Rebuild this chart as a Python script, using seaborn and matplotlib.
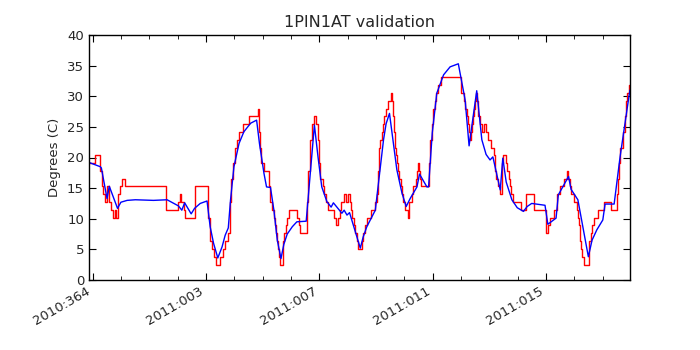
import numpy as np
import pandas as pd
import seaborn as sns
from matplotlib import pyplot as plt
from matplotlib.ticker import MultipleLocator

# days since 2010:364 00:00
tlm_days = [-0.13, 0.10, 0.27, 0.32, 0.38, 0.45, 0.52, 0.59, 0.66, 0.71, 0.78, 0.82, 0.91, 0.96,
            1.05, 1.14, 2.60, 3.01, 3.08, 3.13, 3.21, 3.27, 3.62, 4.07, 4.13, 4.21, 4.30, 4.35,
            4.48, 4.60, 4.66, 4.79, 4.84, 4.89, 4.95, 5.02, 5.11, 5.17, 5.31, 5.52, 5.83, 5.87,
            5.91, 5.96, 6.04, 6.22, 6.27, 6.34, 6.39, 6.43, 6.46, 6.52, 6.55, 6.59, 6.63, 6.71,
            6.76, 6.82, 6.87, 6.94, 7.20, 7.27, 7.33, 7.56, 7.61, 7.68, 7.73, 7.81, 7.89, 7.95,
            7.98, 8.03, 8.12, 8.18, 8.24, 8.32, 8.51, 8.60, 8.66, 8.72, 8.78, 8.86, 8.93, 9.00,
            9.07, 9.12, 9.16, 9.22, 9.27, 9.32, 9.36, 9.50, 9.53, 9.60, 9.68, 9.83, 9.98, 10.05,
            10.07, 10.10, 10.15, 10.20, 10.25, 10.29, 10.34, 10.42, 10.52, 10.57, 10.60, 10.64,
            10.67, 10.71, 10.75, 10.79, 10.83, 10.87, 10.91, 10.96, 11.03, 11.15, 11.18, 11.26,
            11.32, 11.40, 11.46, 11.48, 11.52, 11.55, 11.60, 11.87, 11.92, 11.97, 12.02, 12.08,
            12.13, 12.18, 12.30, 12.99, 13.10, 13.15, 13.20, 13.24, 13.27, 13.31, 13.36, 13.40,
            13.43, 13.47, 13.50, 13.54, 13.57, 13.61, 13.66, 13.75, 13.82, 13.87, 13.95, 14.05,
            14.16, 14.19, 14.25, 14.32, 14.37, 14.46, 14.49, 14.58, 14.63, 14.69, 14.72, 14.77,
            14.85, 15.11, 15.30, 15.57, 16.02, 16.06, 16.15, 16.27, 16.40, 16.50, 16.63, 16.73,
            16.78, 16.84, 16.89, 16.98, 17.09, 17.14, 17.17, 17.21, 17.24, 17.28, 17.35, 17.51,
            17.54, 17.60, 17.63, 17.70, 17.83, 18.05, 18.30, 18.50, 18.53, 18.57, 18.62, 18.71,
            18.74, 18.78, 18.83, 18.87, 18.92, 18.97]
tlm_temp = [19.1, 20.4, 17.8, 15.3, 14.0, 12.7, 15.3, 12.7, 11.5, 10.2, 11.5, 10.2, 14.0, 15.3,
            16.5, 15.3, 11.5, 12.7, 14.0, 12.7, 11.5, 10.2, 15.3, 10.2, 6.4, 5.1, 3.8, 2.5,
            3.8, 5.1, 6.4, 7.6, 12.7, 16.5, 19.1, 21.6, 22.9, 24.2, 25.5, 26.7, 28.0, 24.2,
            21.6, 19.1, 17.8, 15.3, 12.7, 11.5, 10.2, 8.9, 7.6, 6.4, 5.1, 3.8, 2.5, 6.4,
            7.6, 8.9, 10.2, 11.5, 10.2, 8.9, 7.6, 12.7, 17.8, 22.9, 25.5, 26.7, 25.5, 22.9,
            19.1, 16.5, 15.3, 14.0, 12.7, 11.5, 10.2, 8.9, 10.2, 11.5, 12.7, 14.0, 12.7, 14.0,
            12.7, 11.5, 10.2, 8.9, 7.6, 6.4, 5.1, 6.4, 7.6, 8.9, 10.2, 11.5, 12.7, 14.0,
            17.8, 21.6, 22.9, 24.2, 25.5, 26.7, 28.0, 29.3, 30.5, 29.3, 26.7, 24.2,
            21.6, 20.4, 19.1, 17.8, 16.5, 15.3, 14.0, 12.7, 11.5, 10.2, 12.7, 14.0,
            15.3, 16.5, 17.8, 19.1, 17.8, 16.5, 15.3, 19.1, 22.9, 25.5, 28.0, 29.3,
            30.5, 31.8, 33.1, 30.5, 29.3, 28.0, 26.7, 25.5, 24.2, 22.9, 24.2, 25.5,
            26.7, 28.0, 29.3, 30.5, 29.3, 26.7, 25.5, 24.2, 25.5, 24.2, 22.9, 21.6,
            20.4, 17.8, 16.5, 15.3, 14.0, 19.1, 20.4, 19.1, 17.8, 16.5, 15.3, 14.0,
            12.7, 11.5, 14.0, 11.5, 7.6, 8.9, 10.2, 11.5, 14.0, 15.3, 16.5, 17.8,
            16.5, 15.3, 14.0, 12.7, 11.5, 10.2, 8.9, 6.4, 5.1, 3.8, 2.5, 5.1,
            6.4, 7.6, 8.9, 10.2, 11.5, 12.7, 11.5, 14.0, 16.5, 19.1, 21.6, 22.9,
            24.2, 26.7, 29.3, 30.5, 31.8, 31.8]

model_days = [-0.13, 0.27, 0.31, 0.51, 0.59, 0.88, 1.00, 1.22, 1.51, 2.15, 2.63, 3.03, 3.15,
              3.25, 3.48, 3.60, 3.80, 4.04, 4.15, 4.27, 4.42, 4.57, 4.68, 4.79, 4.87, 4.99,
              5.17, 5.34, 5.58, 5.79, 5.89, 6.05, 6.14, 6.28, 6.40, 6.52, 6.65, 6.75, 6.87,
              7.05, 7.21, 7.54, 7.83, 7.96, 8.09, 8.27, 8.42, 8.50, 8.80, 8.88, 8.98, 9.07,
              9.45, 9.55, 9.68, 9.98, 10.27, 10.36, 10.48, 10.74, 10.92, 11.07, 11.21, 11.45,
              11.54, 11.80, 11.86, 11.99, 12.15, 12.39, 12.62, 12.91, 13.15, 13.29, 13.56,
              13.74, 13.89, 14.03, 14.13, 14.39, 14.48, 14.60, 14.80, 14.99, 15.21, 15.34,
              15.50, 15.97, 16.07, 16.36, 16.44, 16.80, 16.89, 17.13, 17.50, 17.63, 17.80,
              18.01, 18.09, 18.41, 18.62, 18.94, 18.97]
model_temp = [19.2, 18.5, 18.3, 13.3, 15.3, 11.7, 12.7, 13.0, 13.1, 13.0, 13.1, 12.1, 11.4,
              12.6, 10.8, 11.7, 12.5, 12.9, 8.7, 6.0, 3.6, 5.4, 7.3, 8.5, 13.1, 18.5,
              22.3, 24.2, 25.6, 26.1, 22.3, 17.4, 15.2, 15.1, 11.4, 6.5, 3.5, 5.8, 7.5,
              8.7, 9.5, 9.6, 25.3, 20.0, 15.2, 12.8, 11.9, 12.6, 10.9, 11.4, 10.6, 11.0,
              5.2, 7.0, 8.7, 11.4, 22.9, 25.5, 27.2, 18.0, 14.2, 12.0, 13.3, 15.2,
              17.3, 15.2, 15.2, 24.0, 30.5, 33.5, 34.8, 35.3, 29.4, 21.9, 30.9,
              22.9, 20.5, 19.6, 20.1, 14.7, 19.9, 16.0, 13.1, 11.8, 11.2, 12.0,
              12.5, 12.2, 9.1, 10.1, 13.9, 16.9, 14.8, 13.1, 3.8, 6.5, 8.2,
              9.8, 12.4, 12.4, 20.1, 30.2, 31.0]

tick_days = [0, 4, 8, 12, 16]
tick_labels = ["2010:364", "2011:003", "2011:007", "2011:011", "2011:015"]

tlm = pd.DataFrame({"day": tlm_days, "temp": tlm_temp})
model = pd.DataFrame({"day": model_days, "temp": model_temp})

sns.set_style("ticks")
plt.rcParams['font.family'] = ['DejaVu Sans']

fig = plt.figure(figsize=(7, 3.5), dpi=100)
ax = fig.add_axes([0.127, 0.2, 0.773, 0.7])

sns.lineplot(data=tlm, x="day", y="temp", ax=ax, color="red", linewidth=1.0,
             drawstyle="steps-post", estimator=None, sort=False)
sns.lineplot(data=model, x="day", y="temp", ax=ax, color="blue", linewidth=1.0,
             estimator=None, sort=False)

ax.set_xlim(-0.13, 18.97)
ax.set_ylim(0, 40)
ax.set_title("1PIN1AT validation", fontsize=11.5)
ax.set_xlabel("")
ax.set_ylabel("Degrees (C)", fontsize=9.5)
ax.set_xticks(tick_days)
ax.set_xticklabels(tick_labels, rotation=30, ha="right", fontsize=9.5)
ax.xaxis.set_minor_locator(MultipleLocator(1))
ax.yaxis.set_major_locator(MultipleLocator(5))
ax.tick_params(axis="y", labelsize=9.5)
ax.tick_params(which="both", direction="in", top=True, right=True, color="black")
ax.tick_params(which="major", length=5)
ax.tick_params(which="minor", length=3)
for s in ax.spines.values():
    s.set_visible(True)
    s.set_color("black")
    s.set_linewidth(1.0)

fig.savefig("out.png", dpi=100, facecolor="white")
